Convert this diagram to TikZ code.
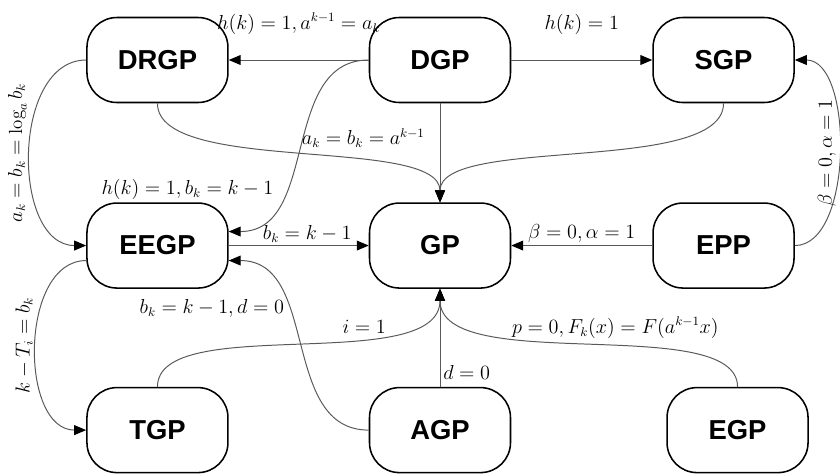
\documentclass[tikz,border=0pt]{standalone}
\usepackage{fontspec}
\setsansfont{Liberation Sans}
\usetikzlibrary{arrows.meta,positioning}

\begin{document}
\begin{tikzpicture}[->,>={Triangle[length=8.5pt,width=7pt,color=black]},node distance=2.475cm,
                    every edge/.style={draw=black!65,line width=0.7pt}]
  \tikzstyle{proc}=[draw=black,line width=1.1pt,rounded corners=0.75cm,minimum width=3.525cm,
                    minimum height=2.125cm,font=\sffamily\bfseries\fontsize{19.5}{22}\selectfont]
  \tikzstyle{lbl}=[font=\fontsize{13.5}{16}\selectfont,inner sep=2pt]

  \useasboundingbox (0,0) rectangle (21,-11.825);

  \node[proc] (DGP) at (11,-1.5) {DGP};
  \node[proc] (DRGP) [left=3.5cm of DGP] {DRGP};
  \node[proc] (SGP) [right=3.525cm of DGP] {SGP};
  \node[proc] (GP) [below=of DGP] {GP};
  \node[proc] (EEGP) [left=3.5cm of GP] {EEGP};
  \node[proc] (EPP) [right=3.525cm of GP] {EPP};
  \node[proc] (AGP) [below=2.45cm of GP] {AGP};
  \node[proc] (TGP) [left=3.5cm of AGP] {TGP};
  \node[proc] (EGP) [right=3.875cm of AGP] {EGP};

  % top row
  \path (DGP) edge node[lbl,above=0.56cm] (hDR) {$h(k)=1,a^{k-1}=a_k$} (DRGP)
        (DGP) edge node[lbl,above=0.56cm] (hS) {$h(k)=1$} (SGP)
        (DGP) edge node[lbl,pos=0.35,left=0.3cm] (hG) {$a_k=b_k=a^{k-1}$} (GP)
        (DRGP.south) edge[out=-90,in=90,out distance=1.8cm,in distance=1.675cm] (GP.north)
        (SGP.south) edge[out=-90,in=90,out distance=1.8cm,in distance=1.675cm] (GP.north)
        (DGP.west) edge[out=180,in=0,out distance=2.225cm,in distance=2.275cm] ([yshift=0.35cm]EEGP.east)
        (DRGP.west) edge[out=180,in=180,distance=1.875cm]
              node[lbl,midway,rotate=90,anchor=south] (hLog) {$a_k=b_k=\log_a b_k$} (EEGP.west);
  \node[lbl,anchor=south] (hEE) at ([xshift=0.75cm]EEGP.north) {$h(k)=1,b_k=k-1$};

  % middle row
  \path (EEGP) edge node[lbl,pos=0.56,above] (hE) {$b_k=k-1$} (GP)
        (EPP) edge node[lbl,above] (hP) {$\beta=0,\alpha=1$} (GP)
        (EPP.east) edge[out=0,in=0,distance=1.475cm]
              node[lbl,midway,rotate=90,anchor=south] (hPS) {$\beta=0,\alpha=1$} (SGP.east)
        ([yshift=-0.375cm]EEGP.west) edge[out=180,in=180,distance=1.675cm]
              node[lbl,midway,rotate=90,anchor=south] (hT) {$k-T_i=b_k$} (TGP.west);

  % bottom row
  \path (AGP.west) edge[out=180,in=0,out distance=2.225cm,in distance=2.275cm]
              node[lbl,pos=0.65,anchor=east] (hA) {$b_k=k-1,d=0$} ([yshift=-0.375cm]EEGP.east)
        (AGP) edge node[lbl,pos=0.15,anchor=west] (hd) {$d=0$} (GP)
        (TGP.north) edge[out=90,in=-90,out distance=1.875cm,in distance=2.2cm]
              node[lbl,pos=0.66,anchor=south] (hi) {$i=1$} (GP.south)
        (EGP.north) edge[out=90,in=-90,out distance=1.875cm,in distance=2.2cm]
              node[lbl,pos=0.44,above=2pt] (hF) {$p=0,F_k(x)=F(a^{k-1}x)$} (GP.south);
\end{tikzpicture}
\end{document}
